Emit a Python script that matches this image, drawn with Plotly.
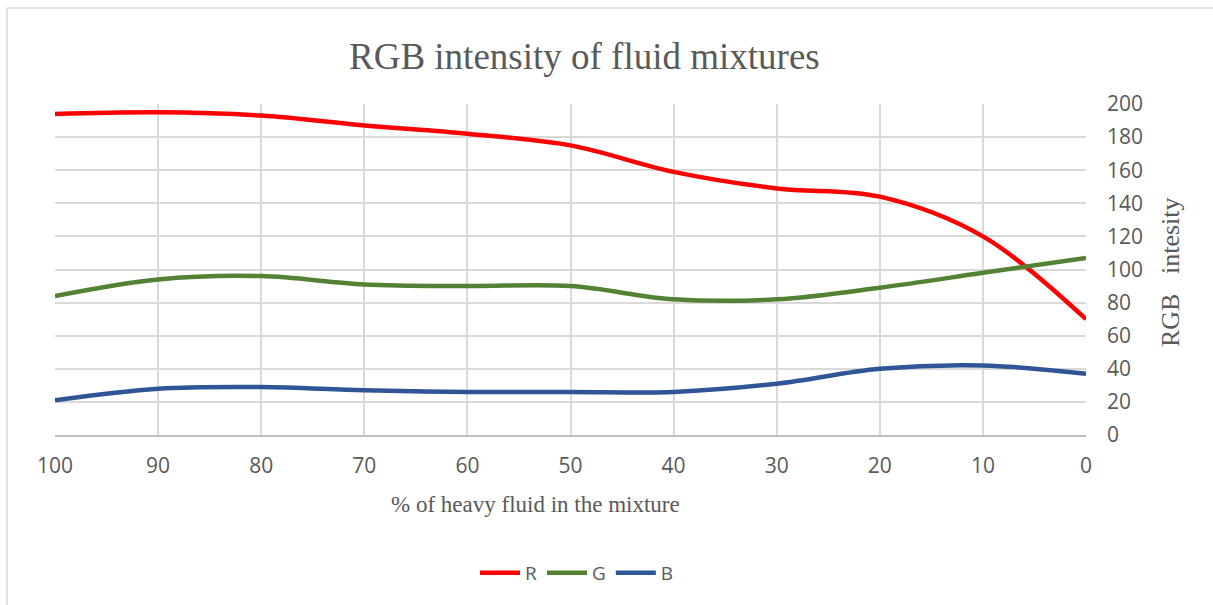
import plotly.graph_objects as go

heavy_pct = [100, 90, 80, 70, 60, 50, 40, 30, 20, 10, 0]
r_vals = [194, 195, 193, 187, 182, 175, 159, 149, 144, 120, 70]
g_vals = [84, 94, 96, 91, 90, 90, 82, 82, 89, 98, 107]
b_vals = [21, 28, 29, 27, 26, 26, 26, 31, 40, 42, 37]
series_names = ["R", "G", "B"]
series_colors = ["#FF0000", "#548235", "#2F5597"]

W, H = 1213, 605
L, R, T, B = 55, 127, 104, 170
pw, ph = W - L - R, H - T - B

def px(x):
    return (x - L) / pw

def py(y):
    return (H - B - y) / ph

fig = go.Figure()
for name, vals, col in zip(series_names, [r_vals, g_vals, b_vals], series_colors):
    fig.add_trace(go.Scatter(
        x=heavy_pct, y=vals, name=name, mode="lines",
        line=dict(color=col, width=4.5, shape="spline", smoothing=1.0),
        yaxis="y",
    ))

tickfont = dict(family="Open Sans, Liberation Sans, sans-serif", size=21, color="#595959")
serif = "Liberation Serif, Times New Roman, serif"

fig.update_layout(
    width=W, height=H,
    margin=dict(l=L, r=R, t=T, b=B, pad=0),
    paper_bgcolor="white", plot_bgcolor="white",
    showlegend=True,
    legend=dict(orientation="h", x=px(577), y=py(573), xanchor="center", yanchor="middle",
                font=dict(family="Open Sans, Liberation Sans, sans-serif", size=19, color="#595959"),
                itemwidth=40, tracegroupgap=0),
    xaxis=dict(range=[100, 0], tick0=0, dtick=10, showgrid=True, gridcolor="#D9D9D9", gridwidth=1.5,
               showline=True, linecolor="#BFBFBF", linewidth=1.5, zeroline=False,
               ticks="", tickfont=tickfont, ticklabelstandoff=11),
    yaxis=dict(range=[0, 200], dtick=20, side="right", showgrid=True, gridcolor="#D9D9D9", gridwidth=1.5,
               showline=False, zeroline=False, ticks="", tickfont=tickfont, ticklabelstandoff=20),
    annotations=[
        dict(text="RGB intensity of fluid mixtures", x=px(584), y=py(56), xref="paper", yref="paper",
             xanchor="center", yanchor="middle", showarrow=False,
             font=dict(family=serif, size=37, color="#595959")),
        dict(text="% of heavy fluid in the mixture", x=px(535), y=py(504), xref="paper", yref="paper",
             xanchor="center", yanchor="middle", showarrow=False,
             font=dict(family=serif, size=23, color="#595959")),
        dict(text="RGB\u00a0\u00a0\u00a0intesity", x=px(1170), y=py(272), xref="paper", yref="paper",
             xanchor="center", yanchor="middle", showarrow=False, textangle=-90,
             font=dict(family=serif, size=26, color="#595959")),
    ],
    shapes=[
        dict(type="line", xref="paper", yref="paper", x0=px(7), x1=px(1213), y0=py(8), y1=py(8),
             line=dict(color="#D9D9D9", width=1.5)),
        dict(type="line", xref="paper", yref="paper", x0=px(7), x1=px(7), y0=py(8), y1=py(605),
             line=dict(color="#D9D9D9", width=1.5)),
    ],
)

fig.write_html("out.html")
